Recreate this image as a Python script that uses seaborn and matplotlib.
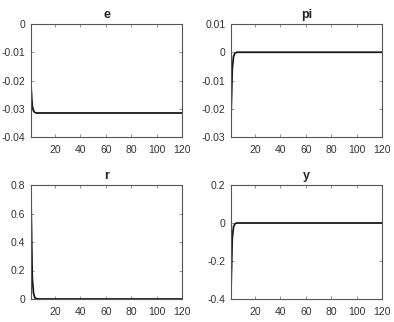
import matplotlib
matplotlib.use("Agg")
import matplotlib.pyplot as plt
import seaborn as sns
import pandas as pd

sns.set_theme(style="white")
plt.rcParams['font.family'] = ['Liberation Sans', 'DejaVu Sans']

periods = [1, 2, 3, 4, 5, 6, 8, 120]
e_vals = [-0.022, -0.029, -0.0308, -0.0313, -0.0315, -0.0315, -0.0315, -0.0315]
pi_vals = [-0.023, -0.006, -0.0015, -0.0004, -0.0001, 0.0, 0.0, 0.0]
r_vals = [0.70, 0.15, 0.04, 0.01, 0.003, 0.001, 0.0, 0.0]
y_vals = [-0.35, -0.08, -0.02, -0.005, -0.001, 0.0, 0.0, 0.0]

titles = ["e", "pi", "r", "y"]
series = [e_vals, pi_vals, r_vals, y_vals]
ylims = [(-0.04, 0.0), (-0.03, 0.01), (0.0, 0.8), (-0.4, 0.2)]
yticks = [[-0.04, -0.03, -0.02, -0.01, 0],
          [-0.03, -0.02, -0.01, 0, 0.01],
          [0, 0.2, 0.4, 0.6, 0.8],
          [-0.4, -0.2, 0, 0.2]]
yticklabels = [["-0.04", "-0.03", "-0.02", "-0.01", "0"],
               ["-0.03", "-0.02", "-0.01", "0", "0.01"],
               ["0", "0.2", "0.4", "0.6", "0.8"],
               ["-0.4", "-0.2", "0", "0.2"]]
xticks = [20, 40, 60, 80, 100, 120]

fig = plt.figure(figsize=(3.94, 3.22), dpi=100)
W, H = 394, 322
boxes = [(31, 24, 182, 137), (231, 24, 382, 137),
         (31, 185, 182, 299), (231, 185, 382, 299)]

for (x0, y0, x1, y1), t, vals, yl, yt, ytl in zip(boxes, titles, series, ylims, yticks, yticklabels):
    ax = fig.add_axes([x0 / W, 1 - y1 / H, (x1 - x0) / W, (y1 - y0) / H])
    df = pd.DataFrame({"t": periods, "v": vals})
    sns.lineplot(data=df, x="t", y="v", ax=ax, color="#1a1a1a", linewidth=1.3)
    ax.set_xlim(1, 120)
    ax.set_ylim(*yl)
    ax.set_xticks(xticks)
    ax.set_yticks(yt)
    ax.set_yticklabels(ytl)
    ax.set_xlabel("")
    ax.set_ylabel("")
    ax.set_title(t, fontsize=9, fontweight="bold", color="#222222", pad=4)
    ax.tick_params(direction="in", length=2, width=0.5, labelsize=7.5,
                   colors="#666666", labelcolor="#333333",
                   bottom=True, left=True, top=True, right=True)
    ax.tick_params(axis="x", pad=6)
    ax.tick_params(axis="y", pad=4)
    for s in ax.spines.values():
        s.set_color("#555555")
        s.set_linewidth(0.8)

fig.savefig("out.png", dpi=100, facecolor="white")
